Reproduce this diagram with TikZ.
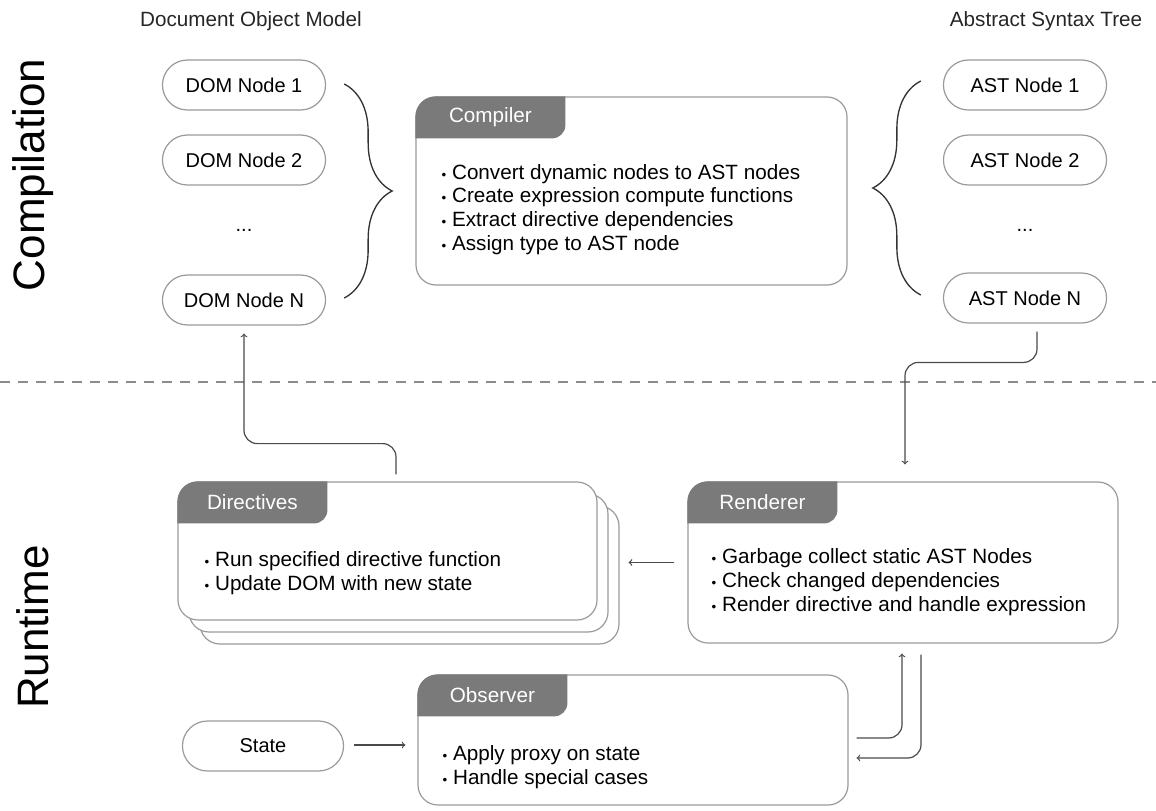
\documentclass[tikz,border=0pt]{standalone}
\usepackage{fontspec}
\setmainfont{Liberation Sans}
\usetikzlibrary{calc,shapes.misc,decorations.pathreplacing}
\definecolor{tabgray}{HTML}{7A7A7A}
\definecolor{edgegray}{HTML}{9A9A9A}
\definecolor{flowgray}{HTML}{4A4A4A}
\definecolor{dashgray}{HTML}{8C8C8C}
\newcommand{\bulletmark}{{\fontsize{10}{10}\selectfont •}\ }
\begin{document}
\begin{tikzpicture}[x=0.75pt,y=-0.75pt,
  heading/.style={font=\fontsize{15.5}{18}\selectfont, text=black!85},
  phase/.style={rotate=90, font=\fontsize{33}{40}\selectfont},
  pill/.style={rounded rectangle, draw=edgegray, line width=0.9pt, fill=white,
    minimum width=129pt, minimum height=37.5pt, font=\fontsize{15}{18}\selectfont},
  dots/.style={font=\fontsize{15}{18}\selectfont},
  panel/.style={draw=edgegray, line width=0.9pt, fill=white, rounded corners=15pt},
  tabtitle/.style={text=white, font=\fontsize{15.5}{18}\selectfont},
  bullets/.style={anchor=north west, align=left, inner sep=0pt,
    font=\fontsize{15.5}{17.8}\selectfont},
  flow/.style={->, draw=flowgray, line width=0.9pt, rounded corners=10pt},
  curly/.style={decorate, decoration={brace, amplitude=36pt}, line width=1pt, draw=black!80},
  divider/.style={draw=dashgray, line width=1.4pt, dash pattern=on 7.5pt off 6pt}]
\useasboundingbox (0,0) rectangle (1156,810);

% headings and phases
\node[heading] (domtitle) at (251,21) {Document Object Model};
\node[heading] (asttitle) at (1046,21) {Abstract Syntax Tree};
\node[phase] (compilation) at (33,175) {Compilation};
\node[phase] (runtime) at (33,627) {Runtime};
\draw[divider] (0,382) -- (1156,382);

% compilation
\node[pill] (dom1) at (244,85) {DOM Node 1};
\node[pill] (dom2) at (244,160) {DOM Node 2};
\node[dots] (domdots) at (244,230) {...};
\node[pill] (domN) at (244,300) {DOM Node N};
\node[pill] (ast1) at (1025,85) {AST Node 1};
\node[pill] (ast2) at (1025,160) {AST Node 2};
\node[dots] (astdots) at (1025,230) {...};
\node[pill] (astN) at (1025,298) {AST Node N};
\draw[curly] ($(dom1.east)+(18,-1)$) -- ($(domN.east)+(18,-2)$);
\draw[curly] ($(astN.west)+(-22,-3)$) -- ($(ast1.west)+(-22,-4)$);

\node[panel, minimum width=323.25pt, minimum height=141pt] (compiler) at (631.5,191) {};
\begin{scope}
\clip[rounded corners=15pt] (compiler.north west) rectangle (compiler.south east);
\fill[tabgray, rounded corners=10pt] ($(compiler.north west)+(-20,-20)$) rectangle ($(compiler.north west)+(150,42)$);
\end{scope}
\node[tabtitle] at ($(compiler.north west)+(75,21)$) {Compiler};
\node[bullets] (compilertext) at ($(compiler.north west)+(26,67.5)$)
  {\bulletmark Convert dynamic nodes to AST nodes\\ \bulletmark Create expression compute functions\\
   \bulletmark Extract directive dependencies\\ \bulletmark Assign type to AST node};

% runtime
\node[panel, minimum width=314.25pt, minimum height=103.5pt] (dirback2) at (409.5,575) {};
\node[panel, minimum width=314.25pt, minimum height=103.5pt] (dirback1) at (398.5,563) {};
\node[panel, minimum width=314.25pt, minimum height=103.5pt] (directives) at (387.5,551) {};
\begin{scope}
\clip[rounded corners=15pt] (directives.north west) rectangle (directives.south east);
\fill[tabgray, rounded corners=10pt] ($(directives.north west)+(-20,-20)$) rectangle ($(directives.north west)+(150,42)$);
\end{scope}
\node[tabtitle] at ($(directives.north west)+(75,21)$) {Directives};
\node[bullets] (directivestext) at ($(directives.north west)+(27,70)$)
  {\bulletmark Run specified directive function\\ \bulletmark Update DOM with new state};

\node[panel, minimum width=322.5pt, minimum height=120.75pt] (renderer) at (903,562.5) {};
\begin{scope}
\clip[rounded corners=15pt] (renderer.north west) rectangle (renderer.south east);
\fill[tabgray, rounded corners=10pt] ($(renderer.north west)+(-20,-20)$) rectangle ($(renderer.north west)+(150,42)$);
\end{scope}
\node[tabtitle] at ($(renderer.north west)+(75,21)$) {Renderer};
\node[bullets] (renderertext) at ($(renderer.north west)+(24,67)$)
  {\bulletmark Garbage collect static AST Nodes\\ \bulletmark Check changed dependencies\\
   \bulletmark Render directive and handle expression};

\node[panel, minimum width=322.5pt, minimum height=97.5pt] (observer) at (633,740) {};
\begin{scope}
\clip[rounded corners=15pt] (observer.north west) rectangle (observer.south east);
\fill[tabgray, rounded corners=10pt] ($(observer.north west)+(-20,-20)$) rectangle ($(observer.north west)+(150,42)$);
\end{scope}
\node[tabtitle] at ($(observer.north west)+(75,21)$) {Observer};
\node[bullets] (observertext) at ($(observer.north west)+(25,71)$)
  {\bulletmark Apply proxy on state\\ \bulletmark Handle special cases};

\node[pill, minimum width=127.5pt] (state) at (263,746) {State};

% connectors
\draw[flow] ($(directives.north)+(8.5,-7)$) |- ($(domN.south)+(0,118)$) -- ($(domN.south)+(0,8)$);
\draw[flow] ($(astN.south)+(12,8)$) |- ($(renderer.north)+(2,-119)$) -- ($(renderer.north)+(2,-17)$);
\draw[flow] ($(renderer.west)+(-13,0)$) -- ($(dirback2.east |- renderer.west)+(9,0)$);
\draw[flow] ($(state.east)+(10,-1)$) -- ($(state.east -| observer.west)+(-12,-1)$);
\draw[flow] ($(observer.east)+(8,-2)$) -| ($(renderer.south)+(-1,10)$);
\draw[flow] ($(renderer.south)+(18,11)$) |- ($(observer.east)+(8,18)$);
\end{tikzpicture}
\end{document}
